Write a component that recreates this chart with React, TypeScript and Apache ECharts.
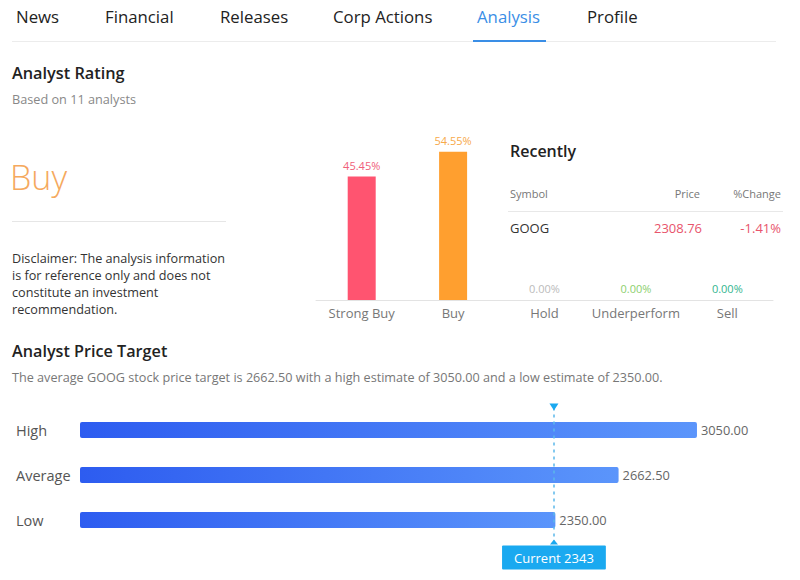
import React, { useEffect, useRef } from "react";
import * as echarts from "echarts";

const tabs = ["News", "Financial", "Releases", "Corp Actions", "Analysis", "Profile"];
const activeTab = "Analysis";
const ratingCategories = ["Strong Buy", "Buy", "Hold", "Underperform", "Sell"];
const ratingValues = [45.45, 54.55, 0, 0, 0];
const analystCount = 11;
const ratingVerdict = "Buy";
const recentHeaders = ["Symbol", "Price", "%Change"];
const recentRow = ["GOOG", "2308.76", "-1.41%"];
const targetCategories = ["High", "Average", "Low"];
const targetValues = [3050, 2662.5, 2350];
const currentPrice = 2343;
const disclaimerLines = [
  "Disclaimer: The analysis information",
  "is for reference only and does not",
  "constitute an investment",
  "recommendation.",
];

// layout / styling (not data)
const tabX = [16, 105, 220, 333, 477, 587];
const FONT = "'Open Sans', 'Noto Sans', sans-serif";
const barColors = ["#ff5470", "#ff9f2f", "#cccccc", "#8fd16f", "#2db89b"];
const labelColors = ["#f0607a", "#f7a94a", "#bbbbbb", "#8ccf6e", "#33b58f"];

function txt(text: string, x: number, y: number, opts: any = {}) {
  const align = opts.align || "left";
  return {
    type: "text",
    x,
    y,
    silent: true,
    style: {
      text,
      fontFamily: FONT,
      fontSize: opts.size || 12,
      fontWeight: opts.weight || "normal",
      fill: opts.color || "#333",
      align,
      textAlign: align,
      verticalAlign: "middle",
      textVerticalAlign: "middle",
    },
  };
}

export default function App() {
  const ref = useRef<HTMLDivElement>(null);
  useEffect(() => {
    const chart = echarts.init(ref.current!, undefined, { renderer: "svg" });
    const graphics: any[] = [];
    tabs.forEach((t, i) => {
      graphics.push(txt(t, tabX[i], 16, { size: 16.8, color: t === activeTab ? "#3a8ee6" : "#222" }));
    });
    graphics.push({ type: "rect", shape: { x: 12, y: 41, width: 764, height: 1 }, style: { fill: "#ececec" }, silent: true });
    const ai = tabs.indexOf(activeTab);
    graphics.push({ type: "rect", shape: { x: tabX[ai] - 4, y: 40, width: 73, height: 2 }, style: { fill: "#3a8ee6" }, silent: true });
    graphics.push(txt("Analyst Rating", 12, 73, { size: 16.3, weight: 600, color: "#222" }));
    graphics.push(txt(`Based on ${analystCount} analysts`, 12, 99, { size: 12.7, color: "#888" }));
    graphics.push(txt(ratingVerdict, 10, 177, { size: 34, weight: 300, color: "#f5a95e" }));
    graphics.push({ type: "rect", shape: { x: 12, y: 221, width: 214, height: 1 }, style: { fill: "#e6e6e6" }, silent: true });
    disclaimerLines.forEach((l, i) => graphics.push(txt(l, 12, 258 + i * 17, { size: 12.65, color: "#333" })));
    graphics.push(txt("Recently", 510, 151, { size: 16, weight: 600, color: "#222" }));
    graphics.push(txt(recentHeaders[0], 510, 193, { size: 11, color: "#777" }));
    graphics.push(txt(recentHeaders[1], 700, 193, { size: 11, color: "#777", align: "right" }));
    graphics.push(txt(recentHeaders[2], 781, 193, { size: 11, color: "#777", align: "right" }));
    graphics.push({ type: "rect", shape: { x: 508, y: 211, width: 275, height: 1 }, style: { fill: "#e8e8e8" }, silent: true });
    graphics.push(txt(recentRow[0], 510, 228, { size: 13, color: "#333" }));
    graphics.push(txt(recentRow[1], 702, 228, { size: 13, color: "#e8546c", align: "right" }));
    graphics.push(txt(recentRow[2], 781, 228, { size: 13, color: "#e8546c", align: "right" }));
    graphics.push(txt("Analyst Price Target", 12, 351, { size: 16.2, weight: 600, color: "#222" }));
    graphics.push(
      txt(
        `The average ${recentRow[0]} stock price target is ${targetValues[1].toFixed(2)} with a high estimate of ${targetValues[0].toFixed(2)} and a low estimate of ${targetValues[2].toFixed(2)}.`,
        12,
        377,
        { size: 12.65, color: "#777" }
      )
    );

    chart.setOption({
      animation: false,
      textStyle: { fontFamily: FONT },
      graphic: graphics,
      grid: [
        { left: 316, top: 137, width: 457, height: 163 },
        { left: 80, top: 407.5, width: 708, height: 135 },
      ],
      xAxis: [
        {
          gridIndex: 0,
          type: "category",
          data: ratingCategories,
          axisLine: { lineStyle: { color: "#e3e3e3" } },
          axisTick: { show: false },
          axisLabel: { color: "#777", fontSize: 13, margin: 6, interval: 0 },
        },
        { gridIndex: 1, type: "value", min: 0, max: 3500, show: false },
      ],
      yAxis: [
        { gridIndex: 0, type: "value", min: 0, max: 60, show: false },
        {
          gridIndex: 1,
          type: "category",
          data: targetCategories,
          inverse: true,
          axisLine: { show: false },
          axisTick: { show: false },
          axisLabel: { color: "#555", fontSize: 14.5, align: "left", margin: 64 },
        },
      ],
      series: [
        {
          type: "bar",
          xAxisIndex: 0,
          yAxisIndex: 0,
          barWidth: 28,
          data: ratingValues.map((v, i) => ({
            value: v,
            itemStyle: { color: barColors[i] },
            label: { color: labelColors[i] },
          })),
          label: {
            show: true,
            position: "top",
            distance: 6,
            fontSize: 11,
            formatter: (p: any) => `${Number(p.value).toFixed(2)}%`,
          },
        },
        {
          type: "bar",
          xAxisIndex: 1,
          yAxisIndex: 1,
          barWidth: 16,
          data: targetValues,
          itemStyle: {
            borderRadius: 2,
            color: new echarts.graphic.LinearGradient(0, 0, 1, 0, [
              { offset: 0, color: "#2d5cf0" },
              { offset: 1, color: "#5b95fb" },
            ]),
          },
          label: {
            show: true,
            position: "right",
            distance: 4,
            color: "#666",
            fontSize: 12.8,
            formatter: (p: any) => Number(p.value).toFixed(2),
          },
          markLine: {
            silent: true,
            symbol: ["none", "none"],
            lineStyle: { color: "#5bb8ea", type: [3, 4], width: 1.5 },
            label: {
              show: true,
              position: "end",
              distance: 3,
              formatter: `Current ${currentPrice}`,
              color: "#fff",
              fontSize: 13,
              backgroundColor: "#1aa9f0",
              padding: [6, 12, 5, 12],
              borderRadius: 1,
            },
            data: [{ xAxis: currentPrice }],
          },
          markPoint: {
            silent: true,
            label: { show: false },
            data: [
              {
                coord: [currentPrice, targetCategories[0]],
                symbol: "triangle",
                symbolSize: [9, 7],
                symbolRotate: 180,
                symbolOffset: [0, -23],
                itemStyle: { color: "#1aa9f0" },
              },
              {
                coord: [currentPrice, targetCategories[2]],
                symbol: "triangle",
                symbolSize: [8, 5],
                symbolOffset: [0, 22],
                itemStyle: { color: "#1aa9f0" },
              },
            ],
          },
        },
      ],
    });
    return () => chart.dispose();
  }, []);
  return (
    <div
      ref={ref}
      style={{ position: "fixed", left: 0, top: 0, width: 800, height: 580, background: "#fff" }}
    />
  );
}
